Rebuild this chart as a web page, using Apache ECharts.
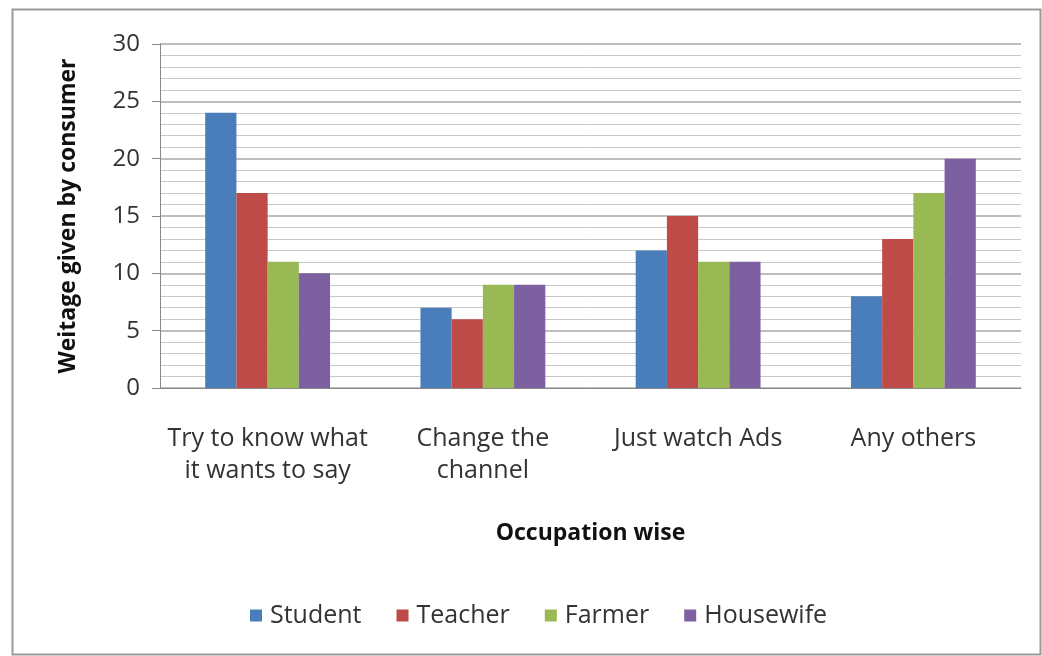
<!DOCTYPE html>
<html>
<head>
<meta charset="utf-8">
<script src="https://cdn.jsdelivr.net/npm/echarts@6/dist/echarts.min.js"></script>
<style>
  html, body { margin: 0; padding: 0; background: #fff; }
  #chart { width: 1042px; height: 656px; }
</style>
</head>
<body>
<div id="chart"></div>
<script>
// Reactions to advertisements, by occupation
const categories = ['Try to know what\nit wants to say', 'Change the\nchannel', 'Just watch Ads', 'Any others'];
const student = [24, 7, 12, 8];
const teacher = [17, 6, 15, 13];
const farmer = [11, 9, 11, 17];
const housewife = [10, 9, 11, 20];
const yTicks = { min: 0, max: 30, step: 5 };

const font = '"Open Sans", "Liberation Sans", sans-serif';
const colors = ['#4a7ebb', '#be4b48', '#98b954', '#7d60a0'];

const chart = echarts.init(document.getElementById('chart'), null, { renderer: 'canvas' });

const mkSeries = (name, data, i) => ({
  name, type: 'bar', data,
  barGap: '0%', barCategoryGap: '42%',
  itemStyle: { color: colors[i] }
});

chart.setOption({
  animation: false,
  backgroundColor: '#fff',
  graphic: [{
    type: 'rect', left: 10, top: 7,
    shape: { width: 1028, height: 645 },
    style: { fill: 'none', stroke: '#9a9a9a', lineWidth: 2 },
    silent: true
  }],
  grid: { left: 160, right: 21, top: 44, bottom: 268, containLabel: false },
  legend: {
    top: 598, left: 245,
    itemWidth: 12, itemHeight: 12, itemGap: 35,
    icon: 'rect',
    textStyle: { fontFamily: font, fontSize: 25, color: '#333', padding: [0, 0, 0, 3] },
    data: ['Student', 'Teacher', 'Farmer', 'Housewife']
  },
  xAxis: {
    type: 'category', data: categories,
    name: 'Occupation wise', nameLocation: 'middle', nameGap: 134,
    nameTextStyle: { fontFamily: font, fontSize: 23, fontWeight: 'bold', color: '#111' },
    axisLine: { show: true, lineStyle: { color: '#888', width: 1 } },
    axisTick: { show: false },
    axisLabel: { interval: 0, fontFamily: font, fontSize: 25, color: '#333', margin: 35, lineHeight: 32 }
  },
  yAxis: {
    type: 'value', min: yTicks.min, max: yTicks.max, interval: yTicks.step,
    name: 'Weitage given by consumer', nameLocation: 'middle', nameGap: 80,
    nameTextStyle: { fontFamily: font, fontSize: 23, fontWeight: 'bold', color: '#111' },
    axisLine: { show: true, lineStyle: { color: '#888', width: 1 } },
    axisTick: { show: true, length: 8, lineStyle: { color: '#888' } },
    axisLabel: { fontFamily: font, fontSize: 24, color: '#333', margin: 20 },
    splitLine: { show: true, lineStyle: { color: '#a8a8a8', width: 1.5 } },
    minorTick: { show: false, splitNumber: 5 },
    minorSplitLine: { show: true, lineStyle: { color: '#c8c8c8', width: 1 } }
  },
  series: [
    mkSeries('Student', student, 0),
    mkSeries('Teacher', teacher, 1),
    mkSeries('Farmer', farmer, 2),
    mkSeries('Housewife', housewife, 3)
  ]
});
</script>
</body>
</html>
